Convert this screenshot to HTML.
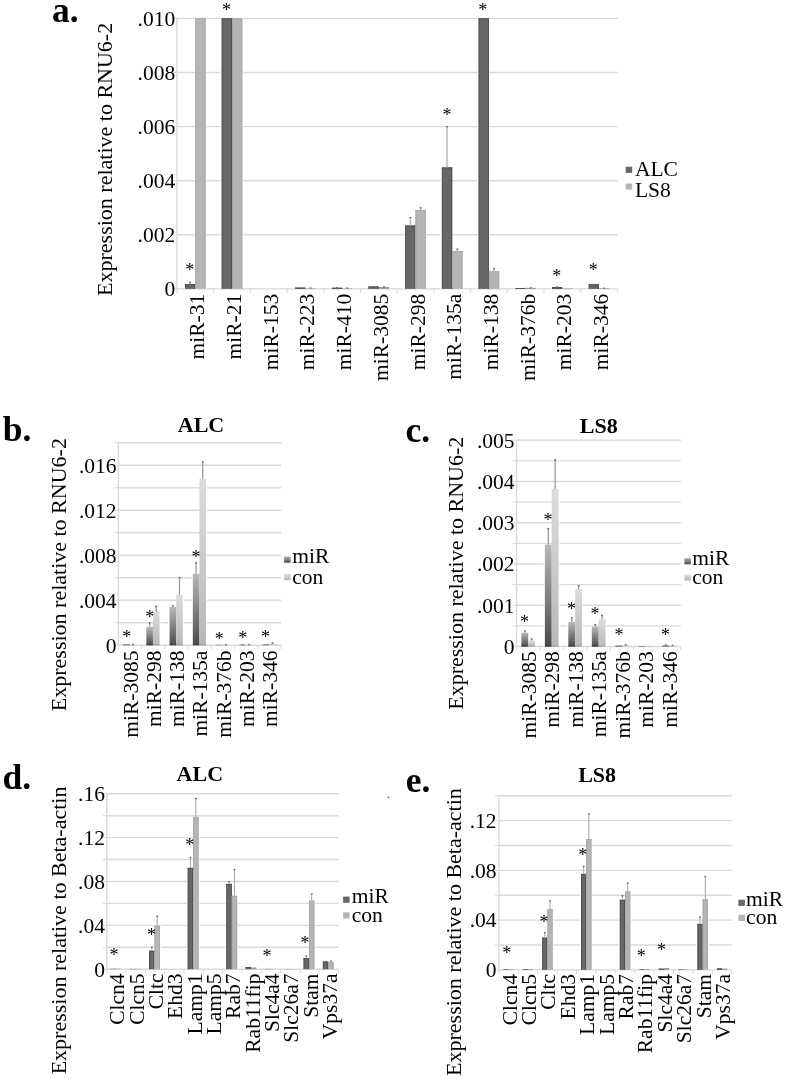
<!DOCTYPE html>
<html><head><meta charset="utf-8"><title>Figure</title>
<style>
html,body{margin:0;padding:0;background:#fff;}
svg{display:block;}
text{font-family:'Liberation Serif', 'Times New Roman', serif;fill:#000;}
</style></head>
<body>
<svg width="787" height="1079" viewBox="0 0 787 1079">
<defs>
<linearGradient id="gm" x1="0" y1="1" x2="0" y2="0"><stop offset="0" stop-color="#4a4a4a"/><stop offset="1" stop-color="#b8b8b8"/></linearGradient>
<linearGradient id="gc" x1="0" y1="1" x2="0" y2="0"><stop offset="0" stop-color="#b8b8b8"/><stop offset="1" stop-color="#dcdcdc"/></linearGradient>
</defs>
<rect width="787" height="1079" fill="#fff"/>
<line x1="177" y1="234.8" x2="617.4" y2="234.8" stroke="#d9d9d9" stroke-width="1.4"/>
<line x1="177" y1="180.7" x2="617.4" y2="180.7" stroke="#d9d9d9" stroke-width="1.4"/>
<line x1="177" y1="126.6" x2="617.4" y2="126.6" stroke="#d9d9d9" stroke-width="1.4"/>
<line x1="177" y1="72.5" x2="617.4" y2="72.5" stroke="#d9d9d9" stroke-width="1.4"/>
<line x1="177" y1="18.4" x2="617.4" y2="18.4" stroke="#d9d9d9" stroke-width="1.4"/>
<line x1="177" y1="18.4" x2="177" y2="288.9" stroke="#d9d9d9" stroke-width="1.4"/>
<line x1="173" y1="288.9" x2="177" y2="288.9" stroke="#d9d9d9" stroke-width="1"/>
<line x1="173" y1="234.8" x2="177" y2="234.8" stroke="#d9d9d9" stroke-width="1"/>
<line x1="173" y1="180.7" x2="177" y2="180.7" stroke="#d9d9d9" stroke-width="1"/>
<line x1="173" y1="126.6" x2="177" y2="126.6" stroke="#d9d9d9" stroke-width="1"/>
<line x1="173" y1="72.5" x2="177" y2="72.5" stroke="#d9d9d9" stroke-width="1"/>
<line x1="173" y1="18.4" x2="177" y2="18.4" stroke="#d9d9d9" stroke-width="1"/>
<line x1="177" y1="288.9" x2="617.4" y2="288.9" stroke="#d9d9d9" stroke-width="1.4"/>
<line x1="177" y1="288.9" x2="177" y2="292.9" stroke="#d9d9d9" stroke-width="1"/>
<line x1="213.7" y1="288.9" x2="213.7" y2="292.9" stroke="#d9d9d9" stroke-width="1"/>
<line x1="250.4" y1="288.9" x2="250.4" y2="292.9" stroke="#d9d9d9" stroke-width="1"/>
<line x1="287.1" y1="288.9" x2="287.1" y2="292.9" stroke="#d9d9d9" stroke-width="1"/>
<line x1="323.8" y1="288.9" x2="323.8" y2="292.9" stroke="#d9d9d9" stroke-width="1"/>
<line x1="360.5" y1="288.9" x2="360.5" y2="292.9" stroke="#d9d9d9" stroke-width="1"/>
<line x1="397.2" y1="288.9" x2="397.2" y2="292.9" stroke="#d9d9d9" stroke-width="1"/>
<line x1="433.9" y1="288.9" x2="433.9" y2="292.9" stroke="#d9d9d9" stroke-width="1"/>
<line x1="470.6" y1="288.9" x2="470.6" y2="292.9" stroke="#d9d9d9" stroke-width="1"/>
<line x1="507.3" y1="288.9" x2="507.3" y2="292.9" stroke="#d9d9d9" stroke-width="1"/>
<line x1="544" y1="288.9" x2="544" y2="292.9" stroke="#d9d9d9" stroke-width="1"/>
<line x1="580.7" y1="288.9" x2="580.7" y2="292.9" stroke="#d9d9d9" stroke-width="1"/>
<line x1="617.4" y1="288.9" x2="617.4" y2="292.9" stroke="#d9d9d9" stroke-width="1"/>
<rect x="183.8" y="283.2" width="1.2" height="5.2" fill="#fff"/>
<rect x="205.6" y="17.6" width="1" height="270.8" fill="#fff"/>
<rect x="220.5" y="17.6" width="1.2" height="270.8" fill="#fff"/>
<rect x="242.3" y="17.6" width="1" height="270.8" fill="#fff"/>
<rect x="367.3" y="285.7" width="1.2" height="2.7" fill="#fff"/>
<rect x="389.1" y="286.2" width="1" height="2.2" fill="#fff"/>
<rect x="404" y="224.7" width="1.2" height="63.7" fill="#fff"/>
<rect x="425.8" y="209.2" width="1" height="79.2" fill="#fff"/>
<rect x="440.7" y="166.6" width="1.2" height="121.8" fill="#fff"/>
<rect x="462.5" y="250.2" width="1" height="38.2" fill="#fff"/>
<rect x="477.4" y="17.6" width="1.2" height="270.8" fill="#fff"/>
<rect x="499.2" y="270.5" width="1" height="17.9" fill="#fff"/>
<rect x="550.8" y="286.2" width="1.2" height="2.2" fill="#fff"/>
<rect x="587.5" y="283.5" width="1.2" height="4.9" fill="#fff"/>
<rect x="185" y="284" width="10.3" height="4.9" fill="#676767"/>
<rect x="185" y="284" width="10.3" height="1" fill="#505050"/>
<rect x="185" y="284" width="0.9" height="4.9" fill="#505050"/>
<rect x="194.4" y="284" width="0.9" height="4.9" fill="#505050"/>
<rect x="195.3" y="18.4" width="10.3" height="270.5" fill="#b5b5b5"/>
<rect x="195.3" y="18.4" width="10.3" height="1" fill="#a8a8a8"/>
<rect x="195.3" y="18.4" width="0.9" height="270.5" fill="#a8a8a8"/>
<rect x="204.7" y="18.4" width="0.9" height="270.5" fill="#a8a8a8"/>
<line x1="190.15" y1="281.8" x2="190.15" y2="284" stroke="#bababa" stroke-width="1.5"/>
<line x1="189.25" y1="282.4" x2="191.05" y2="282.4" stroke="#6a6a6a" stroke-width="1.3"/>
<rect x="221.7" y="18.4" width="10.3" height="270.5" fill="#676767"/>
<rect x="221.7" y="18.4" width="10.3" height="1" fill="#505050"/>
<rect x="221.7" y="18.4" width="0.9" height="270.5" fill="#505050"/>
<rect x="231.1" y="18.4" width="0.9" height="270.5" fill="#505050"/>
<rect x="232" y="18.4" width="10.3" height="270.5" fill="#b5b5b5"/>
<rect x="232" y="18.4" width="10.3" height="1" fill="#a8a8a8"/>
<rect x="232" y="18.4" width="0.9" height="270.5" fill="#a8a8a8"/>
<rect x="241.4" y="18.4" width="0.9" height="270.5" fill="#a8a8a8"/>
<rect x="295.1" y="287.4" width="10.3" height="1.5" fill="#4a4a4a"/>
<rect x="305.4" y="288.4" width="10.3" height="0.5" fill="#9a9a9a"/>
<line x1="310.55" y1="287.5" x2="310.55" y2="288.4" stroke="#bababa" stroke-width="1.5"/>
<line x1="309.65" y1="288.1" x2="311.45" y2="288.1" stroke="#6a6a6a" stroke-width="1.3"/>
<rect x="331.8" y="287.6" width="10.3" height="1.3" fill="#4a4a4a"/>
<rect x="342.1" y="288.4" width="10.3" height="0.5" fill="#9a9a9a"/>
<line x1="336.95" y1="287" x2="336.95" y2="287.6" stroke="#bababa" stroke-width="1.5"/>
<line x1="336.05" y1="287.6" x2="337.85" y2="287.6" stroke="#6a6a6a" stroke-width="1.3"/>
<line x1="347.25" y1="287.6" x2="347.25" y2="288.4" stroke="#bababa" stroke-width="1.5"/>
<line x1="346.35" y1="288.2" x2="348.15" y2="288.2" stroke="#6a6a6a" stroke-width="1.3"/>
<rect x="368.5" y="286.5" width="10.3" height="2.4" fill="#676767"/>
<rect x="368.5" y="286.5" width="10.3" height="1" fill="#505050"/>
<rect x="368.5" y="286.5" width="0.9" height="2.4" fill="#505050"/>
<rect x="377.9" y="286.5" width="0.9" height="2.4" fill="#505050"/>
<rect x="378.8" y="287" width="10.3" height="1.9" fill="#9a9a9a"/>
<line x1="373.65" y1="286" x2="373.65" y2="286.5" stroke="#bababa" stroke-width="1.5"/>
<line x1="372.75" y1="286.6" x2="374.55" y2="286.6" stroke="#6a6a6a" stroke-width="1.3"/>
<line x1="383.95" y1="286.4" x2="383.95" y2="287" stroke="#bababa" stroke-width="1.5"/>
<line x1="383.05" y1="287" x2="384.85" y2="287" stroke="#6a6a6a" stroke-width="1.3"/>
<rect x="405.2" y="225.5" width="10.3" height="63.4" fill="#676767"/>
<rect x="405.2" y="225.5" width="10.3" height="1" fill="#505050"/>
<rect x="405.2" y="225.5" width="0.9" height="63.4" fill="#505050"/>
<rect x="414.6" y="225.5" width="0.9" height="63.4" fill="#505050"/>
<rect x="415.5" y="210" width="10.3" height="78.9" fill="#b5b5b5"/>
<rect x="415.5" y="210" width="10.3" height="1" fill="#a8a8a8"/>
<rect x="415.5" y="210" width="0.9" height="78.9" fill="#a8a8a8"/>
<rect x="424.9" y="210" width="0.9" height="78.9" fill="#a8a8a8"/>
<line x1="410.35" y1="217" x2="410.35" y2="225.5" stroke="#bababa" stroke-width="1.5"/>
<line x1="409.45" y1="217.6" x2="411.25" y2="217.6" stroke="#6a6a6a" stroke-width="1.3"/>
<line x1="420.65" y1="207.2" x2="420.65" y2="210" stroke="#bababa" stroke-width="1.5"/>
<line x1="419.75" y1="207.8" x2="421.55" y2="207.8" stroke="#6a6a6a" stroke-width="1.3"/>
<rect x="441.9" y="167.4" width="10.3" height="121.5" fill="#676767"/>
<rect x="441.9" y="167.4" width="10.3" height="1" fill="#505050"/>
<rect x="441.9" y="167.4" width="0.9" height="121.5" fill="#505050"/>
<rect x="451.3" y="167.4" width="0.9" height="121.5" fill="#505050"/>
<rect x="452.2" y="251" width="10.3" height="37.9" fill="#b5b5b5"/>
<rect x="452.2" y="251" width="10.3" height="1" fill="#a8a8a8"/>
<rect x="452.2" y="251" width="0.9" height="37.9" fill="#a8a8a8"/>
<rect x="461.6" y="251" width="0.9" height="37.9" fill="#a8a8a8"/>
<line x1="447.05" y1="126" x2="447.05" y2="167.4" stroke="#bababa" stroke-width="1.5"/>
<line x1="446.15" y1="126.6" x2="447.95" y2="126.6" stroke="#6a6a6a" stroke-width="1.3"/>
<line x1="457.35" y1="248.6" x2="457.35" y2="251" stroke="#bababa" stroke-width="1.5"/>
<line x1="456.45" y1="249.2" x2="458.25" y2="249.2" stroke="#6a6a6a" stroke-width="1.3"/>
<rect x="478.6" y="18.4" width="10.3" height="270.5" fill="#676767"/>
<rect x="478.6" y="18.4" width="10.3" height="1" fill="#505050"/>
<rect x="478.6" y="18.4" width="0.9" height="270.5" fill="#505050"/>
<rect x="488" y="18.4" width="0.9" height="270.5" fill="#505050"/>
<rect x="488.9" y="271.3" width="10.3" height="17.6" fill="#b5b5b5"/>
<rect x="488.9" y="271.3" width="10.3" height="1" fill="#a8a8a8"/>
<rect x="488.9" y="271.3" width="0.9" height="17.6" fill="#a8a8a8"/>
<rect x="498.3" y="271.3" width="0.9" height="17.6" fill="#a8a8a8"/>
<line x1="494.05" y1="268" x2="494.05" y2="271.3" stroke="#bababa" stroke-width="1.5"/>
<line x1="493.15" y1="268.6" x2="494.95" y2="268.6" stroke="#6a6a6a" stroke-width="1.3"/>
<rect x="515.3" y="288" width="10.3" height="0.9" fill="#4a4a4a"/>
<rect x="525.6" y="287.8" width="10.3" height="1.1" fill="#9a9a9a"/>
<line x1="530.75" y1="287.3" x2="530.75" y2="287.8" stroke="#bababa" stroke-width="1.5"/>
<line x1="529.85" y1="287.9" x2="531.65" y2="287.9" stroke="#6a6a6a" stroke-width="1.3"/>
<rect x="552" y="287" width="10.3" height="1.9" fill="#4a4a4a"/>
<rect x="562.3" y="288.4" width="10.3" height="0.5" fill="#9a9a9a"/>
<line x1="557.15" y1="286.5" x2="557.15" y2="287" stroke="#bababa" stroke-width="1.5"/>
<line x1="556.25" y1="287.1" x2="558.05" y2="287.1" stroke="#6a6a6a" stroke-width="1.3"/>
<rect x="588.7" y="284.3" width="10.3" height="4.6" fill="#676767"/>
<rect x="588.7" y="284.3" width="10.3" height="1" fill="#505050"/>
<rect x="588.7" y="284.3" width="0.9" height="4.6" fill="#505050"/>
<rect x="598.1" y="284.3" width="0.9" height="4.6" fill="#505050"/>
<rect x="599" y="288.3" width="10.3" height="0.6" fill="#9a9a9a"/>
<line x1="593.85" y1="283.8" x2="593.85" y2="284.3" stroke="#bababa" stroke-width="1.5"/>
<line x1="592.95" y1="284.4" x2="594.75" y2="284.4" stroke="#6a6a6a" stroke-width="1.3"/>
<line x1="604.15" y1="287.7" x2="604.15" y2="288.3" stroke="#bababa" stroke-width="1.5"/>
<line x1="603.25" y1="288.3" x2="605.05" y2="288.3" stroke="#6a6a6a" stroke-width="1.3"/>
<text x="189.8" y="276.2" text-anchor="middle" font-size="18">*</text>
<text x="226.4" y="15.8" text-anchor="middle" font-size="18">*</text>
<text x="447" y="121.4" text-anchor="middle" font-size="18">*</text>
<text x="482.7" y="16.2" text-anchor="middle" font-size="18">*</text>
<text x="556.7" y="282.35" text-anchor="middle" font-size="18">*</text>
<text x="593.3" y="276.1" text-anchor="middle" font-size="18">*</text>
<text x="175.2" y="296.2" text-anchor="end" font-size="21.5">0</text>
<text x="175.2" y="242.1" text-anchor="end" font-size="21.5">.002</text>
<text x="175.2" y="188" text-anchor="end" font-size="21.5">.004</text>
<text x="175.2" y="133.9" text-anchor="end" font-size="21.5">.006</text>
<text x="175.2" y="79.8" text-anchor="end" font-size="21.5">.008</text>
<text x="175.2" y="25.7" text-anchor="end" font-size="21.5">.010</text>
<text transform="translate(204.35,293.8) rotate(-90)" text-anchor="end" font-size="21.5">miR-31</text>
<text transform="translate(241.05,293.8) rotate(-90)" text-anchor="end" font-size="21.5">miR-21</text>
<text transform="translate(277.75,293.8) rotate(-90)" text-anchor="end" font-size="21.5">miR-153</text>
<text transform="translate(314.45,293.8) rotate(-90)" text-anchor="end" font-size="21.5">miR-223</text>
<text transform="translate(351.15,293.8) rotate(-90)" text-anchor="end" font-size="21.5">miR-410</text>
<text transform="translate(387.85,293.8) rotate(-90)" text-anchor="end" font-size="21.5">miR-3085</text>
<text transform="translate(424.55,293.8) rotate(-90)" text-anchor="end" font-size="21.5">miR-298</text>
<text transform="translate(461.25,293.8) rotate(-90)" text-anchor="end" font-size="21.5">miR-135a</text>
<text transform="translate(497.95,293.8) rotate(-90)" text-anchor="end" font-size="21.5">miR-138</text>
<text transform="translate(534.65,293.8) rotate(-90)" text-anchor="end" font-size="21.5">miR-376b</text>
<text transform="translate(571.35,293.8) rotate(-90)" text-anchor="end" font-size="21.5">miR-203</text>
<text transform="translate(608.05,293.8) rotate(-90)" text-anchor="end" font-size="21.5">miR-346</text>
<text transform="translate(112.3,22.8) rotate(-90)" text-anchor="end" font-size="22">Expression relative to RNU6-2</text>
<rect x="625.7" y="166.7" width="6.5" height="6.2" fill="#676767"/>
<rect x="625.7" y="183.5" width="6.5" height="6.2" fill="#b5b5b5"/>
<text x="634.9" y="175.8" text-anchor="start" font-size="21.5">ALC</text>
<text x="634.9" y="196.7" text-anchor="start" font-size="21.5">LS8</text>
<text x="52" y="21.8" text-anchor="start" font-size="35.5" font-weight="bold">a.</text>
<line x1="118.4" y1="622.71" x2="281.1" y2="622.71" stroke="#d9d9d9" stroke-width="1.4"/>
<line x1="118.4" y1="600.22" x2="281.1" y2="600.22" stroke="#d9d9d9" stroke-width="1.4"/>
<line x1="118.4" y1="577.73" x2="281.1" y2="577.73" stroke="#d9d9d9" stroke-width="1.4"/>
<line x1="118.4" y1="555.24" x2="281.1" y2="555.24" stroke="#d9d9d9" stroke-width="1.4"/>
<line x1="118.4" y1="532.75" x2="281.1" y2="532.75" stroke="#d9d9d9" stroke-width="1.4"/>
<line x1="118.4" y1="510.26" x2="281.1" y2="510.26" stroke="#d9d9d9" stroke-width="1.4"/>
<line x1="118.4" y1="487.77" x2="281.1" y2="487.77" stroke="#d9d9d9" stroke-width="1.4"/>
<line x1="118.4" y1="465.28" x2="281.1" y2="465.28" stroke="#d9d9d9" stroke-width="1.4"/>
<line x1="118.4" y1="442.79" x2="281.1" y2="442.79" stroke="#d9d9d9" stroke-width="1.4"/>
<line x1="118.4" y1="442.79" x2="118.4" y2="645.2" stroke="#d9d9d9" stroke-width="1.4"/>
<line x1="114.4" y1="645.2" x2="118.4" y2="645.2" stroke="#d9d9d9" stroke-width="1"/>
<line x1="114.4" y1="622.71" x2="118.4" y2="622.71" stroke="#d9d9d9" stroke-width="1"/>
<line x1="114.4" y1="600.22" x2="118.4" y2="600.22" stroke="#d9d9d9" stroke-width="1"/>
<line x1="114.4" y1="577.73" x2="118.4" y2="577.73" stroke="#d9d9d9" stroke-width="1"/>
<line x1="114.4" y1="555.24" x2="118.4" y2="555.24" stroke="#d9d9d9" stroke-width="1"/>
<line x1="114.4" y1="532.75" x2="118.4" y2="532.75" stroke="#d9d9d9" stroke-width="1"/>
<line x1="114.4" y1="510.26" x2="118.4" y2="510.26" stroke="#d9d9d9" stroke-width="1"/>
<line x1="114.4" y1="487.77" x2="118.4" y2="487.77" stroke="#d9d9d9" stroke-width="1"/>
<line x1="114.4" y1="465.28" x2="118.4" y2="465.28" stroke="#d9d9d9" stroke-width="1"/>
<line x1="114.4" y1="442.79" x2="118.4" y2="442.79" stroke="#d9d9d9" stroke-width="1"/>
<line x1="118.4" y1="645.2" x2="281.1" y2="645.2" stroke="#d9d9d9" stroke-width="1.4"/>
<line x1="118.4" y1="645.2" x2="118.4" y2="649.2" stroke="#d9d9d9" stroke-width="1"/>
<line x1="141.64" y1="645.2" x2="141.64" y2="649.2" stroke="#d9d9d9" stroke-width="1"/>
<line x1="164.89" y1="645.2" x2="164.89" y2="649.2" stroke="#d9d9d9" stroke-width="1"/>
<line x1="188.13" y1="645.2" x2="188.13" y2="649.2" stroke="#d9d9d9" stroke-width="1"/>
<line x1="211.37" y1="645.2" x2="211.37" y2="649.2" stroke="#d9d9d9" stroke-width="1"/>
<line x1="234.61" y1="645.2" x2="234.61" y2="649.2" stroke="#d9d9d9" stroke-width="1"/>
<line x1="257.86" y1="645.2" x2="257.86" y2="649.2" stroke="#d9d9d9" stroke-width="1"/>
<line x1="281.1" y1="645.2" x2="281.1" y2="649.2" stroke="#d9d9d9" stroke-width="1"/>
<rect x="145.14" y="626.2" width="1.2" height="18.5" fill="#fff"/>
<rect x="159.54" y="611.1" width="1" height="33.6" fill="#fff"/>
<rect x="168.39" y="606.2" width="1.2" height="38.5" fill="#fff"/>
<rect x="182.79" y="594.1" width="1" height="50.6" fill="#fff"/>
<rect x="191.63" y="573" width="1.2" height="71.7" fill="#fff"/>
<rect x="206.03" y="478" width="1" height="166.7" fill="#fff"/>
<rect x="123.1" y="644" width="6.6" height="1.2" fill="url(#gm)"/>
<rect x="129.7" y="644.8" width="6.6" height="0.4" fill="url(#gc)"/>
<line x1="133" y1="643.9" x2="133" y2="644.8" stroke="#9a9a9a" stroke-width="1.3"/>
<line x1="132.1" y1="644.5" x2="133.9" y2="644.5" stroke="#6a6a6a" stroke-width="1.3"/>
<rect x="146.34" y="627" width="6.6" height="18.2" fill="url(#gm)"/>
<line x1="146.34" y1="644.7" x2="152.94" y2="644.7" stroke="#3a3a3a" stroke-width="1"/>
<rect x="152.94" y="611.9" width="6.6" height="33.3" fill="url(#gc)"/>
<line x1="152.94" y1="644.7" x2="159.54" y2="644.7" stroke="#9a9a9a" stroke-width="1"/>
<line x1="149.64" y1="622.4" x2="149.64" y2="627" stroke="#9a9a9a" stroke-width="1.3"/>
<line x1="148.74" y1="623" x2="150.54" y2="623" stroke="#6a6a6a" stroke-width="1.3"/>
<line x1="156.24" y1="605.8" x2="156.24" y2="611.9" stroke="#9a9a9a" stroke-width="1.3"/>
<line x1="155.34" y1="606.4" x2="157.14" y2="606.4" stroke="#6a6a6a" stroke-width="1.3"/>
<rect x="169.59" y="607" width="6.6" height="38.2" fill="url(#gm)"/>
<line x1="169.59" y1="644.7" x2="176.19" y2="644.7" stroke="#3a3a3a" stroke-width="1"/>
<rect x="176.19" y="594.9" width="6.6" height="50.3" fill="url(#gc)"/>
<line x1="176.19" y1="644.7" x2="182.79" y2="644.7" stroke="#9a9a9a" stroke-width="1"/>
<line x1="172.89" y1="605.2" x2="172.89" y2="607" stroke="#9a9a9a" stroke-width="1.3"/>
<line x1="171.99" y1="605.8" x2="173.79" y2="605.8" stroke="#6a6a6a" stroke-width="1.3"/>
<line x1="179.49" y1="577" x2="179.49" y2="594.9" stroke="#9a9a9a" stroke-width="1.3"/>
<line x1="178.59" y1="577.6" x2="180.39" y2="577.6" stroke="#6a6a6a" stroke-width="1.3"/>
<rect x="192.83" y="573.8" width="6.6" height="71.4" fill="url(#gm)"/>
<line x1="192.83" y1="644.7" x2="199.43" y2="644.7" stroke="#3a3a3a" stroke-width="1"/>
<rect x="199.43" y="478.8" width="6.6" height="166.4" fill="url(#gc)"/>
<line x1="199.43" y1="644.7" x2="206.03" y2="644.7" stroke="#9a9a9a" stroke-width="1"/>
<line x1="196.13" y1="562.3" x2="196.13" y2="573.8" stroke="#9a9a9a" stroke-width="1.3"/>
<line x1="195.23" y1="562.9" x2="197.03" y2="562.9" stroke="#6a6a6a" stroke-width="1.3"/>
<line x1="202.73" y1="461.3" x2="202.73" y2="478.8" stroke="#9a9a9a" stroke-width="1.3"/>
<line x1="201.83" y1="461.9" x2="203.63" y2="461.9" stroke="#6a6a6a" stroke-width="1.3"/>
<rect x="216.07" y="644.6" width="6.6" height="0.6" fill="url(#gm)"/>
<rect x="222.67" y="644.7" width="6.6" height="0.5" fill="url(#gc)"/>
<line x1="225.97" y1="644" x2="225.97" y2="644.7" stroke="#9a9a9a" stroke-width="1.3"/>
<line x1="225.07" y1="644.6" x2="226.87" y2="644.6" stroke="#6a6a6a" stroke-width="1.3"/>
<rect x="239.31" y="644.5" width="6.6" height="0.7" fill="url(#gm)"/>
<rect x="245.91" y="644.6" width="6.6" height="0.6" fill="url(#gc)"/>
<line x1="242.61" y1="644" x2="242.61" y2="644.5" stroke="#9a9a9a" stroke-width="1.3"/>
<line x1="241.71" y1="644.6" x2="243.51" y2="644.6" stroke="#6a6a6a" stroke-width="1.3"/>
<line x1="249.21" y1="644" x2="249.21" y2="644.6" stroke="#9a9a9a" stroke-width="1.3"/>
<line x1="248.31" y1="644.6" x2="250.11" y2="644.6" stroke="#6a6a6a" stroke-width="1.3"/>
<rect x="262.56" y="644.1" width="6.6" height="1.1" fill="url(#gm)"/>
<rect x="269.16" y="643.9" width="6.6" height="1.3" fill="url(#gc)"/>
<line x1="272.46" y1="642.5" x2="272.46" y2="643.9" stroke="#9a9a9a" stroke-width="1.3"/>
<line x1="271.56" y1="643.1" x2="273.36" y2="643.1" stroke="#6a6a6a" stroke-width="1.3"/>
<text x="126.8" y="642.7" text-anchor="middle" font-size="18">*</text>
<text x="149.7" y="622.55" text-anchor="middle" font-size="18">*</text>
<text x="196" y="562.6" text-anchor="middle" font-size="18">*</text>
<text x="219.2" y="644.8" text-anchor="middle" font-size="18">*</text>
<text x="242.7" y="644.4" text-anchor="middle" font-size="18">*</text>
<text x="265.4" y="643" text-anchor="middle" font-size="18">*</text>
<text x="116.5" y="652.5" text-anchor="end" font-size="21.5">0</text>
<text x="116.5" y="607.5" text-anchor="end" font-size="21.5">.004</text>
<text x="116.5" y="562.6" text-anchor="end" font-size="21.5">.008</text>
<text x="116.5" y="517.6" text-anchor="end" font-size="21.5">.012</text>
<text x="116.5" y="472.6" text-anchor="end" font-size="21.5">.016</text>
<text transform="translate(137.72,650.6) rotate(-90)" text-anchor="end" font-size="21.5">miR-3085</text>
<text transform="translate(160.96,650.6) rotate(-90)" text-anchor="end" font-size="21.5">miR-298</text>
<text transform="translate(184.21,650.6) rotate(-90)" text-anchor="end" font-size="21.5">miR-138</text>
<text transform="translate(207.45,650.6) rotate(-90)" text-anchor="end" font-size="21.5">miR-135a</text>
<text transform="translate(230.69,650.6) rotate(-90)" text-anchor="end" font-size="21.5">miR-376b</text>
<text transform="translate(253.94,650.6) rotate(-90)" text-anchor="end" font-size="21.5">miR-203</text>
<text transform="translate(277.18,650.6) rotate(-90)" text-anchor="end" font-size="21.5">miR-346</text>
<text transform="translate(66.1,438.1) rotate(-90)" text-anchor="end" font-size="22">Expression relative to RNU6-2</text>
<rect x="284.1" y="556.5" width="6.5" height="6.2" fill="url(#gm)"/>
<rect x="284.1" y="574" width="6.5" height="6.2" fill="url(#gc)"/>
<text x="292.3" y="563" text-anchor="start" font-size="21.5">miR</text>
<text x="292.3" y="583.5" text-anchor="start" font-size="21.5">con</text>
<text x="177.8" y="432.3" text-anchor="start" font-size="22" font-weight="bold">ALC</text>
<text x="2.7" y="440.6" text-anchor="start" font-size="35.5" font-weight="bold">b.</text>
<line x1="516.5" y1="625.87" x2="680.8" y2="625.87" stroke="#d9d9d9" stroke-width="1.4"/>
<line x1="516.5" y1="605.24" x2="680.8" y2="605.24" stroke="#d9d9d9" stroke-width="1.4"/>
<line x1="516.5" y1="584.61" x2="680.8" y2="584.61" stroke="#d9d9d9" stroke-width="1.4"/>
<line x1="516.5" y1="563.98" x2="680.8" y2="563.98" stroke="#d9d9d9" stroke-width="1.4"/>
<line x1="516.5" y1="543.35" x2="680.8" y2="543.35" stroke="#d9d9d9" stroke-width="1.4"/>
<line x1="516.5" y1="522.72" x2="680.8" y2="522.72" stroke="#d9d9d9" stroke-width="1.4"/>
<line x1="516.5" y1="502.09" x2="680.8" y2="502.09" stroke="#d9d9d9" stroke-width="1.4"/>
<line x1="516.5" y1="481.46" x2="680.8" y2="481.46" stroke="#d9d9d9" stroke-width="1.4"/>
<line x1="516.5" y1="460.83" x2="680.8" y2="460.83" stroke="#d9d9d9" stroke-width="1.4"/>
<line x1="516.5" y1="440.2" x2="680.8" y2="440.2" stroke="#d9d9d9" stroke-width="1.4"/>
<line x1="516.5" y1="440.2" x2="516.5" y2="646.5" stroke="#d9d9d9" stroke-width="1.4"/>
<line x1="512.5" y1="646.5" x2="516.5" y2="646.5" stroke="#d9d9d9" stroke-width="1"/>
<line x1="512.5" y1="625.87" x2="516.5" y2="625.87" stroke="#d9d9d9" stroke-width="1"/>
<line x1="512.5" y1="605.24" x2="516.5" y2="605.24" stroke="#d9d9d9" stroke-width="1"/>
<line x1="512.5" y1="584.61" x2="516.5" y2="584.61" stroke="#d9d9d9" stroke-width="1"/>
<line x1="512.5" y1="563.98" x2="516.5" y2="563.98" stroke="#d9d9d9" stroke-width="1"/>
<line x1="512.5" y1="543.35" x2="516.5" y2="543.35" stroke="#d9d9d9" stroke-width="1"/>
<line x1="512.5" y1="522.72" x2="516.5" y2="522.72" stroke="#d9d9d9" stroke-width="1"/>
<line x1="512.5" y1="502.09" x2="516.5" y2="502.09" stroke="#d9d9d9" stroke-width="1"/>
<line x1="512.5" y1="481.46" x2="516.5" y2="481.46" stroke="#d9d9d9" stroke-width="1"/>
<line x1="512.5" y1="460.83" x2="516.5" y2="460.83" stroke="#d9d9d9" stroke-width="1"/>
<line x1="512.5" y1="440.2" x2="516.5" y2="440.2" stroke="#d9d9d9" stroke-width="1"/>
<line x1="516.5" y1="646.5" x2="680.8" y2="646.5" stroke="#d9d9d9" stroke-width="1.4"/>
<line x1="516.5" y1="646.5" x2="516.5" y2="650.5" stroke="#d9d9d9" stroke-width="1"/>
<line x1="539.97" y1="646.5" x2="539.97" y2="650.5" stroke="#d9d9d9" stroke-width="1"/>
<line x1="563.44" y1="646.5" x2="563.44" y2="650.5" stroke="#d9d9d9" stroke-width="1"/>
<line x1="586.91" y1="646.5" x2="586.91" y2="650.5" stroke="#d9d9d9" stroke-width="1"/>
<line x1="610.39" y1="646.5" x2="610.39" y2="650.5" stroke="#d9d9d9" stroke-width="1"/>
<line x1="633.86" y1="646.5" x2="633.86" y2="650.5" stroke="#d9d9d9" stroke-width="1"/>
<line x1="657.33" y1="646.5" x2="657.33" y2="650.5" stroke="#d9d9d9" stroke-width="1"/>
<line x1="680.8" y1="646.5" x2="680.8" y2="650.5" stroke="#d9d9d9" stroke-width="1"/>
<rect x="520.2" y="632" width="1.2" height="14" fill="#fff"/>
<rect x="535.1" y="639.7" width="1" height="6.3" fill="#fff"/>
<rect x="543.67" y="543.9" width="1.2" height="102.1" fill="#fff"/>
<rect x="558.57" y="488.1" width="1" height="157.9" fill="#fff"/>
<rect x="567.14" y="621" width="1.2" height="25" fill="#fff"/>
<rect x="582.04" y="588.3" width="1" height="57.7" fill="#fff"/>
<rect x="590.61" y="626" width="1.2" height="20" fill="#fff"/>
<rect x="605.51" y="618.7" width="1" height="27.3" fill="#fff"/>
<rect x="521.4" y="632.8" width="6.85" height="13.7" fill="url(#gm)"/>
<line x1="521.4" y1="646" x2="528.25" y2="646" stroke="#3a3a3a" stroke-width="1"/>
<rect x="528.25" y="640.5" width="6.85" height="6" fill="url(#gc)"/>
<line x1="528.25" y1="646" x2="535.1" y2="646" stroke="#9a9a9a" stroke-width="1"/>
<line x1="524.82" y1="630.5" x2="524.82" y2="632.8" stroke="#9a9a9a" stroke-width="1.3"/>
<line x1="523.92" y1="631.1" x2="525.72" y2="631.1" stroke="#6a6a6a" stroke-width="1.3"/>
<line x1="531.67" y1="638.5" x2="531.67" y2="640.5" stroke="#9a9a9a" stroke-width="1.3"/>
<line x1="530.77" y1="639.1" x2="532.57" y2="639.1" stroke="#6a6a6a" stroke-width="1.3"/>
<rect x="544.87" y="544.7" width="6.85" height="101.8" fill="url(#gm)"/>
<line x1="544.87" y1="646" x2="551.72" y2="646" stroke="#3a3a3a" stroke-width="1"/>
<rect x="551.72" y="488.9" width="6.85" height="157.6" fill="url(#gc)"/>
<line x1="551.72" y1="646" x2="558.57" y2="646" stroke="#9a9a9a" stroke-width="1"/>
<line x1="548.3" y1="528" x2="548.3" y2="544.7" stroke="#9a9a9a" stroke-width="1.3"/>
<line x1="547.4" y1="528.6" x2="549.2" y2="528.6" stroke="#6a6a6a" stroke-width="1.3"/>
<line x1="555.15" y1="459.3" x2="555.15" y2="488.9" stroke="#9a9a9a" stroke-width="1.3"/>
<line x1="554.25" y1="459.9" x2="556.05" y2="459.9" stroke="#6a6a6a" stroke-width="1.3"/>
<rect x="568.34" y="621.8" width="6.85" height="24.7" fill="url(#gm)"/>
<line x1="568.34" y1="646" x2="575.19" y2="646" stroke="#3a3a3a" stroke-width="1"/>
<rect x="575.19" y="589.1" width="6.85" height="57.4" fill="url(#gc)"/>
<line x1="575.19" y1="646" x2="582.04" y2="646" stroke="#9a9a9a" stroke-width="1"/>
<line x1="571.77" y1="617.2" x2="571.77" y2="621.8" stroke="#9a9a9a" stroke-width="1.3"/>
<line x1="570.87" y1="617.8" x2="572.67" y2="617.8" stroke="#6a6a6a" stroke-width="1.3"/>
<line x1="578.62" y1="585.2" x2="578.62" y2="589.1" stroke="#9a9a9a" stroke-width="1.3"/>
<line x1="577.72" y1="585.8" x2="579.52" y2="585.8" stroke="#6a6a6a" stroke-width="1.3"/>
<rect x="591.81" y="626.8" width="6.85" height="19.7" fill="url(#gm)"/>
<line x1="591.81" y1="646" x2="598.66" y2="646" stroke="#3a3a3a" stroke-width="1"/>
<rect x="598.66" y="619.5" width="6.85" height="27" fill="url(#gc)"/>
<line x1="598.66" y1="646" x2="605.51" y2="646" stroke="#9a9a9a" stroke-width="1"/>
<line x1="595.24" y1="624" x2="595.24" y2="626.8" stroke="#9a9a9a" stroke-width="1.3"/>
<line x1="594.34" y1="624.6" x2="596.14" y2="624.6" stroke="#6a6a6a" stroke-width="1.3"/>
<line x1="602.09" y1="614.9" x2="602.09" y2="619.5" stroke="#9a9a9a" stroke-width="1.3"/>
<line x1="601.19" y1="615.5" x2="602.99" y2="615.5" stroke="#6a6a6a" stroke-width="1.3"/>
<rect x="615.29" y="645.2" width="6.85" height="1.3" fill="url(#gm)"/>
<rect x="622.14" y="645" width="6.85" height="1.5" fill="url(#gc)"/>
<line x1="625.56" y1="644.2" x2="625.56" y2="645" stroke="#9a9a9a" stroke-width="1.3"/>
<line x1="624.66" y1="644.8" x2="626.46" y2="644.8" stroke="#6a6a6a" stroke-width="1.3"/>
<rect x="638.76" y="646" width="6.85" height="0.5" fill="url(#gm)"/>
<rect x="645.61" y="646" width="6.85" height="0.5" fill="url(#gc)"/>
<rect x="662.23" y="645.2" width="6.85" height="1.3" fill="url(#gm)"/>
<rect x="669.08" y="645.5" width="6.85" height="1" fill="url(#gc)"/>
<line x1="665.65" y1="644.5" x2="665.65" y2="645.2" stroke="#9a9a9a" stroke-width="1.3"/>
<line x1="664.75" y1="645.1" x2="666.55" y2="645.1" stroke="#6a6a6a" stroke-width="1.3"/>
<line x1="672.5" y1="644.8" x2="672.5" y2="645.5" stroke="#9a9a9a" stroke-width="1.3"/>
<line x1="671.6" y1="645.4" x2="673.4" y2="645.4" stroke="#6a6a6a" stroke-width="1.3"/>
<text x="524.6" y="627.7" text-anchor="middle" font-size="18">*</text>
<text x="547.9" y="525.7" text-anchor="middle" font-size="18">*</text>
<text x="571.4" y="615.2" text-anchor="middle" font-size="18">*</text>
<text x="595.1" y="619.6" text-anchor="middle" font-size="18">*</text>
<text x="619.1" y="640.6" text-anchor="middle" font-size="18">*</text>
<text x="665.4" y="640.6" text-anchor="middle" font-size="18">*</text>
<text x="514.6" y="653.8" text-anchor="end" font-size="21.5">0</text>
<text x="514.6" y="612.6" text-anchor="end" font-size="21.5">.001</text>
<text x="514.6" y="571.3" text-anchor="end" font-size="21.5">.002</text>
<text x="514.6" y="530" text-anchor="end" font-size="21.5">.003</text>
<text x="514.6" y="488.7" text-anchor="end" font-size="21.5">.004</text>
<text x="514.6" y="447.5" text-anchor="end" font-size="21.5">.005</text>
<text transform="translate(535.94,651.2) rotate(-90)" text-anchor="end" font-size="21.5">miR-3085</text>
<text transform="translate(559.41,651.2) rotate(-90)" text-anchor="end" font-size="21.5">miR-298</text>
<text transform="translate(582.88,651.2) rotate(-90)" text-anchor="end" font-size="21.5">miR-138</text>
<text transform="translate(606.35,651.2) rotate(-90)" text-anchor="end" font-size="21.5">miR-135a</text>
<text transform="translate(629.82,651.2) rotate(-90)" text-anchor="end" font-size="21.5">miR-376b</text>
<text transform="translate(653.29,651.2) rotate(-90)" text-anchor="end" font-size="21.5">miR-203</text>
<text transform="translate(676.76,651.2) rotate(-90)" text-anchor="end" font-size="21.5">miR-346</text>
<text transform="translate(462.9,436.7) rotate(-90)" text-anchor="end" font-size="22">Expression relative to RNU6-2</text>
<rect x="684.4" y="558.1" width="6.5" height="6.2" fill="url(#gm)"/>
<rect x="684.4" y="574.5" width="6.5" height="6.2" fill="url(#gc)"/>
<text x="692.3" y="565" text-anchor="start" font-size="21.5">miR</text>
<text x="692.3" y="584.3" text-anchor="start" font-size="21.5">con</text>
<text x="579.8" y="432.5" text-anchor="start" font-size="22" font-weight="bold">LS8</text>
<text x="405.5" y="441.8" text-anchor="start" font-size="35.5" font-weight="bold">c.</text>
<line x1="106.8" y1="947.27" x2="338.5" y2="947.27" stroke="#d9d9d9" stroke-width="1.4"/>
<line x1="106.8" y1="925.34" x2="338.5" y2="925.34" stroke="#d9d9d9" stroke-width="1.4"/>
<line x1="106.8" y1="903.41" x2="338.5" y2="903.41" stroke="#d9d9d9" stroke-width="1.4"/>
<line x1="106.8" y1="881.48" x2="338.5" y2="881.48" stroke="#d9d9d9" stroke-width="1.4"/>
<line x1="106.8" y1="859.55" x2="338.5" y2="859.55" stroke="#d9d9d9" stroke-width="1.4"/>
<line x1="106.8" y1="837.62" x2="338.5" y2="837.62" stroke="#d9d9d9" stroke-width="1.4"/>
<line x1="106.8" y1="815.69" x2="338.5" y2="815.69" stroke="#d9d9d9" stroke-width="1.4"/>
<line x1="106.8" y1="793.76" x2="338.5" y2="793.76" stroke="#d9d9d9" stroke-width="1.4"/>
<line x1="106.8" y1="793.76" x2="106.8" y2="969.2" stroke="#d9d9d9" stroke-width="1.4"/>
<line x1="102.8" y1="969.2" x2="106.8" y2="969.2" stroke="#d9d9d9" stroke-width="1"/>
<line x1="102.8" y1="947.27" x2="106.8" y2="947.27" stroke="#d9d9d9" stroke-width="1"/>
<line x1="102.8" y1="925.34" x2="106.8" y2="925.34" stroke="#d9d9d9" stroke-width="1"/>
<line x1="102.8" y1="903.41" x2="106.8" y2="903.41" stroke="#d9d9d9" stroke-width="1"/>
<line x1="102.8" y1="881.48" x2="106.8" y2="881.48" stroke="#d9d9d9" stroke-width="1"/>
<line x1="102.8" y1="859.55" x2="106.8" y2="859.55" stroke="#d9d9d9" stroke-width="1"/>
<line x1="102.8" y1="837.62" x2="106.8" y2="837.62" stroke="#d9d9d9" stroke-width="1"/>
<line x1="102.8" y1="815.69" x2="106.8" y2="815.69" stroke="#d9d9d9" stroke-width="1"/>
<line x1="102.8" y1="793.76" x2="106.8" y2="793.76" stroke="#d9d9d9" stroke-width="1"/>
<line x1="106.8" y1="969.2" x2="338.5" y2="969.2" stroke="#d9d9d9" stroke-width="1.4"/>
<line x1="106.8" y1="969.2" x2="106.8" y2="973.2" stroke="#d9d9d9" stroke-width="1"/>
<line x1="126.11" y1="969.2" x2="126.11" y2="973.2" stroke="#d9d9d9" stroke-width="1"/>
<line x1="145.42" y1="969.2" x2="145.42" y2="973.2" stroke="#d9d9d9" stroke-width="1"/>
<line x1="164.72" y1="969.2" x2="164.72" y2="973.2" stroke="#d9d9d9" stroke-width="1"/>
<line x1="184.03" y1="969.2" x2="184.03" y2="973.2" stroke="#d9d9d9" stroke-width="1"/>
<line x1="203.34" y1="969.2" x2="203.34" y2="973.2" stroke="#d9d9d9" stroke-width="1"/>
<line x1="222.65" y1="969.2" x2="222.65" y2="973.2" stroke="#d9d9d9" stroke-width="1"/>
<line x1="241.96" y1="969.2" x2="241.96" y2="973.2" stroke="#d9d9d9" stroke-width="1"/>
<line x1="261.27" y1="969.2" x2="261.27" y2="973.2" stroke="#d9d9d9" stroke-width="1"/>
<line x1="280.57" y1="969.2" x2="280.57" y2="973.2" stroke="#d9d9d9" stroke-width="1"/>
<line x1="299.88" y1="969.2" x2="299.88" y2="973.2" stroke="#d9d9d9" stroke-width="1"/>
<line x1="319.19" y1="969.2" x2="319.19" y2="973.2" stroke="#d9d9d9" stroke-width="1"/>
<line x1="338.5" y1="969.2" x2="338.5" y2="973.2" stroke="#d9d9d9" stroke-width="1"/>
<rect x="147.92" y="950" width="1.2" height="18.7" fill="#fff"/>
<rect x="159.92" y="925.1" width="1" height="43.6" fill="#fff"/>
<rect x="186.53" y="867.1" width="1.2" height="101.6" fill="#fff"/>
<rect x="198.53" y="816.1" width="1" height="152.6" fill="#fff"/>
<rect x="225.15" y="883.1" width="1.2" height="85.6" fill="#fff"/>
<rect x="237.15" y="895" width="1" height="73.7" fill="#fff"/>
<rect x="244.46" y="966.2" width="1.2" height="2.5" fill="#fff"/>
<rect x="256.46" y="966.7" width="1" height="2" fill="#fff"/>
<rect x="302.38" y="957.2" width="1.2" height="11.5" fill="#fff"/>
<rect x="314.38" y="899.9" width="1" height="68.8" fill="#fff"/>
<rect x="321.69" y="960.8" width="1.2" height="7.9" fill="#fff"/>
<rect x="333.69" y="961.5" width="1" height="7.2" fill="#fff"/>
<rect x="110.5" y="968.8" width="5.4" height="0.4" fill="#4a4a4a"/>
<rect x="115.9" y="968.8" width="5.4" height="0.4" fill="#9a9a9a"/>
<rect x="129.81" y="968.9" width="5.4" height="0.3" fill="#4a4a4a"/>
<rect x="135.21" y="968.8" width="5.4" height="0.4" fill="#9a9a9a"/>
<rect x="149.12" y="950.8" width="5.4" height="18.4" fill="#676767"/>
<rect x="149.12" y="950.8" width="5.4" height="1" fill="#505050"/>
<rect x="149.12" y="950.8" width="0.9" height="18.4" fill="#505050"/>
<rect x="153.62" y="950.8" width="0.9" height="18.4" fill="#505050"/>
<rect x="154.52" y="925.9" width="5.4" height="43.3" fill="#b5b5b5"/>
<rect x="154.52" y="925.9" width="5.4" height="1" fill="#a8a8a8"/>
<rect x="154.52" y="925.9" width="0.9" height="43.3" fill="#a8a8a8"/>
<rect x="159.02" y="925.9" width="0.9" height="43.3" fill="#a8a8a8"/>
<line x1="151.82" y1="946.5" x2="151.82" y2="950.8" stroke="#ababab" stroke-width="1.1"/>
<line x1="150.92" y1="947.1" x2="152.72" y2="947.1" stroke="#6a6a6a" stroke-width="1.3"/>
<line x1="157.22" y1="915.6" x2="157.22" y2="925.9" stroke="#ababab" stroke-width="1.1"/>
<line x1="156.32" y1="916.2" x2="158.12" y2="916.2" stroke="#6a6a6a" stroke-width="1.3"/>
<rect x="187.73" y="867.9" width="5.4" height="101.3" fill="#676767"/>
<rect x="187.73" y="867.9" width="5.4" height="1" fill="#505050"/>
<rect x="187.73" y="867.9" width="0.9" height="101.3" fill="#505050"/>
<rect x="192.23" y="867.9" width="0.9" height="101.3" fill="#505050"/>
<rect x="193.13" y="816.9" width="5.4" height="152.3" fill="#b5b5b5"/>
<rect x="193.13" y="816.9" width="5.4" height="1" fill="#a8a8a8"/>
<rect x="193.13" y="816.9" width="0.9" height="152.3" fill="#a8a8a8"/>
<rect x="197.63" y="816.9" width="0.9" height="152.3" fill="#a8a8a8"/>
<line x1="190.43" y1="856.9" x2="190.43" y2="867.9" stroke="#ababab" stroke-width="1.1"/>
<line x1="189.53" y1="857.5" x2="191.33" y2="857.5" stroke="#6a6a6a" stroke-width="1.3"/>
<line x1="195.83" y1="797.9" x2="195.83" y2="816.9" stroke="#ababab" stroke-width="1.1"/>
<line x1="194.93" y1="798.5" x2="196.73" y2="798.5" stroke="#6a6a6a" stroke-width="1.3"/>
<rect x="226.35" y="883.9" width="5.4" height="85.3" fill="#676767"/>
<rect x="226.35" y="883.9" width="5.4" height="1" fill="#505050"/>
<rect x="226.35" y="883.9" width="0.9" height="85.3" fill="#505050"/>
<rect x="230.85" y="883.9" width="0.9" height="85.3" fill="#505050"/>
<rect x="231.75" y="895.8" width="5.4" height="73.4" fill="#b5b5b5"/>
<rect x="231.75" y="895.8" width="5.4" height="1" fill="#a8a8a8"/>
<rect x="231.75" y="895.8" width="0.9" height="73.4" fill="#a8a8a8"/>
<rect x="236.25" y="895.8" width="0.9" height="73.4" fill="#a8a8a8"/>
<line x1="229.05" y1="881" x2="229.05" y2="883.9" stroke="#ababab" stroke-width="1.1"/>
<line x1="228.15" y1="881.6" x2="229.95" y2="881.6" stroke="#6a6a6a" stroke-width="1.3"/>
<line x1="234.45" y1="869" x2="234.45" y2="895.8" stroke="#ababab" stroke-width="1.1"/>
<line x1="233.55" y1="869.6" x2="235.35" y2="869.6" stroke="#6a6a6a" stroke-width="1.3"/>
<rect x="245.66" y="967" width="5.4" height="2.2" fill="#676767"/>
<rect x="245.66" y="967" width="5.4" height="1" fill="#505050"/>
<rect x="245.66" y="967" width="0.9" height="2.2" fill="#505050"/>
<rect x="250.16" y="967" width="0.9" height="2.2" fill="#505050"/>
<rect x="251.06" y="967.5" width="5.4" height="1.7" fill="#9a9a9a"/>
<rect x="264.97" y="968.9" width="5.4" height="0.3" fill="#4a4a4a"/>
<rect x="270.37" y="968.9" width="5.4" height="0.3" fill="#9a9a9a"/>
<rect x="284.27" y="969" width="5.4" height="0.2" fill="#4a4a4a"/>
<rect x="289.67" y="969" width="5.4" height="0.2" fill="#9a9a9a"/>
<rect x="303.58" y="958" width="5.4" height="11.2" fill="#676767"/>
<rect x="303.58" y="958" width="5.4" height="1" fill="#505050"/>
<rect x="303.58" y="958" width="0.9" height="11.2" fill="#505050"/>
<rect x="308.08" y="958" width="0.9" height="11.2" fill="#505050"/>
<rect x="308.98" y="900.7" width="5.4" height="68.5" fill="#b5b5b5"/>
<rect x="308.98" y="900.7" width="5.4" height="1" fill="#a8a8a8"/>
<rect x="308.98" y="900.7" width="0.9" height="68.5" fill="#a8a8a8"/>
<rect x="313.48" y="900.7" width="0.9" height="68.5" fill="#a8a8a8"/>
<line x1="306.28" y1="955.5" x2="306.28" y2="958" stroke="#ababab" stroke-width="1.1"/>
<line x1="305.38" y1="956.1" x2="307.18" y2="956.1" stroke="#6a6a6a" stroke-width="1.3"/>
<line x1="311.68" y1="893.5" x2="311.68" y2="900.7" stroke="#ababab" stroke-width="1.1"/>
<line x1="310.78" y1="894.1" x2="312.58" y2="894.1" stroke="#6a6a6a" stroke-width="1.3"/>
<rect x="322.89" y="961.6" width="5.4" height="7.6" fill="#676767"/>
<rect x="322.89" y="961.6" width="5.4" height="1" fill="#505050"/>
<rect x="322.89" y="961.6" width="0.9" height="7.6" fill="#505050"/>
<rect x="327.39" y="961.6" width="0.9" height="7.6" fill="#505050"/>
<rect x="328.29" y="962.3" width="5.4" height="6.9" fill="#b5b5b5"/>
<rect x="328.29" y="962.3" width="5.4" height="1" fill="#a8a8a8"/>
<rect x="328.29" y="962.3" width="0.9" height="6.9" fill="#a8a8a8"/>
<rect x="332.79" y="962.3" width="0.9" height="6.9" fill="#a8a8a8"/>
<line x1="325.59" y1="961" x2="325.59" y2="961.6" stroke="#ababab" stroke-width="1.1"/>
<line x1="324.69" y1="961.6" x2="326.49" y2="961.6" stroke="#6a6a6a" stroke-width="1.3"/>
<line x1="330.99" y1="960.5" x2="330.99" y2="962.3" stroke="#ababab" stroke-width="1.1"/>
<line x1="330.09" y1="961.1" x2="331.89" y2="961.1" stroke="#6a6a6a" stroke-width="1.3"/>
<text x="114" y="961.3" text-anchor="middle" font-size="18">*</text>
<text x="151.5" y="940.75" text-anchor="middle" font-size="18">*</text>
<text x="189.7" y="850.75" text-anchor="middle" font-size="18">*</text>
<text x="267" y="961.75" text-anchor="middle" font-size="18">*</text>
<text x="305" y="949.3" text-anchor="middle" font-size="18">*</text>
<text x="104.9" y="976.5" text-anchor="end" font-size="21.5">0</text>
<text x="104.9" y="932.6" text-anchor="end" font-size="21.5">.04</text>
<text x="104.9" y="888.8" text-anchor="end" font-size="21.5">.08</text>
<text x="104.9" y="844.9" text-anchor="end" font-size="21.5">.12</text>
<text x="104.9" y="801.1" text-anchor="end" font-size="21.5">.16</text>
<text transform="translate(124.45,973.5) rotate(-90)" text-anchor="end" font-size="21.5">Clcn4</text>
<text transform="translate(143.76,973.5) rotate(-90)" text-anchor="end" font-size="21.5">Clcn5</text>
<text transform="translate(163.07,973.5) rotate(-90)" text-anchor="end" font-size="21.5">Cltc</text>
<text transform="translate(182.38,973.5) rotate(-90)" text-anchor="end" font-size="21.5">Ehd3</text>
<text transform="translate(201.69,973.5) rotate(-90)" text-anchor="end" font-size="21.5">Lamp1</text>
<text transform="translate(221,973.5) rotate(-90)" text-anchor="end" font-size="21.5">Lamp5</text>
<text transform="translate(240.3,973.5) rotate(-90)" text-anchor="end" font-size="21.5">Rab7</text>
<text transform="translate(259.61,973.5) rotate(-90)" text-anchor="end" font-size="21.5">Rab11fip</text>
<text transform="translate(278.92,973.5) rotate(-90)" text-anchor="end" font-size="21.5">Slc4a4</text>
<text transform="translate(298.23,973.5) rotate(-90)" text-anchor="end" font-size="21.5">Slc26a7</text>
<text transform="translate(317.54,973.5) rotate(-90)" text-anchor="end" font-size="21.5">Stam</text>
<text transform="translate(336.85,973.5) rotate(-90)" text-anchor="end" font-size="21.5">Vps37a</text>
<text transform="translate(66.1,786.6) rotate(-90)" text-anchor="end" font-size="22">Expression relative to Beta-actin</text>
<rect x="343.1" y="896.6" width="6.5" height="6.2" fill="#676767"/>
<rect x="343.1" y="912.4" width="6.5" height="6.2" fill="#b5b5b5"/>
<text x="351.8" y="903.3" text-anchor="start" font-size="21.5">miR</text>
<text x="351.8" y="921.6" text-anchor="start" font-size="21.5">con</text>
<text x="176.6" y="781.4" text-anchor="start" font-size="22" font-weight="bold">ALC</text>
<text x="2.4" y="788.6" text-anchor="start" font-size="35.5" font-weight="bold">d.</text>
<line x1="498.9" y1="945.02" x2="731.8" y2="945.02" stroke="#d9d9d9" stroke-width="1.4"/>
<line x1="498.9" y1="920.14" x2="731.8" y2="920.14" stroke="#d9d9d9" stroke-width="1.4"/>
<line x1="498.9" y1="895.26" x2="731.8" y2="895.26" stroke="#d9d9d9" stroke-width="1.4"/>
<line x1="498.9" y1="870.38" x2="731.8" y2="870.38" stroke="#d9d9d9" stroke-width="1.4"/>
<line x1="498.9" y1="845.5" x2="731.8" y2="845.5" stroke="#d9d9d9" stroke-width="1.4"/>
<line x1="498.9" y1="820.62" x2="731.8" y2="820.62" stroke="#d9d9d9" stroke-width="1.4"/>
<line x1="498.9" y1="795.74" x2="731.8" y2="795.74" stroke="#d9d9d9" stroke-width="1.4"/>
<line x1="498.9" y1="795.74" x2="498.9" y2="969.9" stroke="#d9d9d9" stroke-width="1.4"/>
<line x1="494.9" y1="969.9" x2="498.9" y2="969.9" stroke="#d9d9d9" stroke-width="1"/>
<line x1="494.9" y1="945.02" x2="498.9" y2="945.02" stroke="#d9d9d9" stroke-width="1"/>
<line x1="494.9" y1="920.14" x2="498.9" y2="920.14" stroke="#d9d9d9" stroke-width="1"/>
<line x1="494.9" y1="895.26" x2="498.9" y2="895.26" stroke="#d9d9d9" stroke-width="1"/>
<line x1="494.9" y1="870.38" x2="498.9" y2="870.38" stroke="#d9d9d9" stroke-width="1"/>
<line x1="494.9" y1="845.5" x2="498.9" y2="845.5" stroke="#d9d9d9" stroke-width="1"/>
<line x1="494.9" y1="820.62" x2="498.9" y2="820.62" stroke="#d9d9d9" stroke-width="1"/>
<line x1="494.9" y1="795.74" x2="498.9" y2="795.74" stroke="#d9d9d9" stroke-width="1"/>
<line x1="498.9" y1="969.9" x2="731.8" y2="969.9" stroke="#d9d9d9" stroke-width="1.4"/>
<line x1="498.9" y1="969.9" x2="498.9" y2="973.9" stroke="#d9d9d9" stroke-width="1"/>
<line x1="518.31" y1="969.9" x2="518.31" y2="973.9" stroke="#d9d9d9" stroke-width="1"/>
<line x1="537.72" y1="969.9" x2="537.72" y2="973.9" stroke="#d9d9d9" stroke-width="1"/>
<line x1="557.12" y1="969.9" x2="557.12" y2="973.9" stroke="#d9d9d9" stroke-width="1"/>
<line x1="576.53" y1="969.9" x2="576.53" y2="973.9" stroke="#d9d9d9" stroke-width="1"/>
<line x1="595.94" y1="969.9" x2="595.94" y2="973.9" stroke="#d9d9d9" stroke-width="1"/>
<line x1="615.35" y1="969.9" x2="615.35" y2="973.9" stroke="#d9d9d9" stroke-width="1"/>
<line x1="634.76" y1="969.9" x2="634.76" y2="973.9" stroke="#d9d9d9" stroke-width="1"/>
<line x1="654.17" y1="969.9" x2="654.17" y2="973.9" stroke="#d9d9d9" stroke-width="1"/>
<line x1="673.57" y1="969.9" x2="673.57" y2="973.9" stroke="#d9d9d9" stroke-width="1"/>
<line x1="692.98" y1="969.9" x2="692.98" y2="973.9" stroke="#d9d9d9" stroke-width="1"/>
<line x1="712.39" y1="969.9" x2="712.39" y2="973.9" stroke="#d9d9d9" stroke-width="1"/>
<line x1="731.8" y1="969.9" x2="731.8" y2="973.9" stroke="#d9d9d9" stroke-width="1"/>
<rect x="541.02" y="936.9" width="1.2" height="32.5" fill="#fff"/>
<rect x="552.62" y="908.4" width="1" height="61" fill="#fff"/>
<rect x="579.83" y="873.1" width="1.2" height="96.3" fill="#fff"/>
<rect x="591.43" y="838.2" width="1" height="131.2" fill="#fff"/>
<rect x="618.65" y="899" width="1.2" height="70.4" fill="#fff"/>
<rect x="630.25" y="890.6" width="1" height="78.8" fill="#fff"/>
<rect x="669.07" y="967.2" width="1" height="2.2" fill="#fff"/>
<rect x="696.28" y="923.1" width="1.2" height="46.3" fill="#fff"/>
<rect x="707.88" y="898.4" width="1" height="71" fill="#fff"/>
<rect x="715.69" y="967.4" width="1.2" height="2" fill="#fff"/>
<rect x="503.4" y="969.2" width="5.2" height="0.7" fill="#4a4a4a"/>
<rect x="508.6" y="969.2" width="5.2" height="0.7" fill="#9a9a9a"/>
<rect x="522.81" y="969.2" width="5.2" height="0.7" fill="#4a4a4a"/>
<rect x="528.01" y="969.1" width="5.2" height="0.8" fill="#9a9a9a"/>
<rect x="542.22" y="937.7" width="5.2" height="32.2" fill="#676767"/>
<rect x="542.22" y="937.7" width="5.2" height="1" fill="#505050"/>
<rect x="542.22" y="937.7" width="0.9" height="32.2" fill="#505050"/>
<rect x="546.52" y="937.7" width="0.9" height="32.2" fill="#505050"/>
<rect x="547.42" y="909.2" width="5.2" height="60.7" fill="#b5b5b5"/>
<rect x="547.42" y="909.2" width="5.2" height="1" fill="#a8a8a8"/>
<rect x="547.42" y="909.2" width="0.9" height="60.7" fill="#a8a8a8"/>
<rect x="551.72" y="909.2" width="0.9" height="60.7" fill="#a8a8a8"/>
<line x1="544.82" y1="932.1" x2="544.82" y2="937.7" stroke="#ababab" stroke-width="1.1"/>
<line x1="543.92" y1="932.7" x2="545.72" y2="932.7" stroke="#6a6a6a" stroke-width="1.3"/>
<line x1="550.02" y1="900.3" x2="550.02" y2="909.2" stroke="#ababab" stroke-width="1.1"/>
<line x1="549.12" y1="900.9" x2="550.92" y2="900.9" stroke="#6a6a6a" stroke-width="1.3"/>
<rect x="581.03" y="873.9" width="5.2" height="96" fill="#676767"/>
<rect x="581.03" y="873.9" width="5.2" height="1" fill="#505050"/>
<rect x="581.03" y="873.9" width="0.9" height="96" fill="#505050"/>
<rect x="585.33" y="873.9" width="0.9" height="96" fill="#505050"/>
<rect x="586.23" y="839" width="5.2" height="130.9" fill="#b5b5b5"/>
<rect x="586.23" y="839" width="5.2" height="1" fill="#a8a8a8"/>
<rect x="586.23" y="839" width="0.9" height="130.9" fill="#a8a8a8"/>
<rect x="590.53" y="839" width="0.9" height="130.9" fill="#a8a8a8"/>
<line x1="583.63" y1="865.8" x2="583.63" y2="873.9" stroke="#ababab" stroke-width="1.1"/>
<line x1="582.73" y1="866.4" x2="584.53" y2="866.4" stroke="#6a6a6a" stroke-width="1.3"/>
<line x1="588.83" y1="813.5" x2="588.83" y2="839" stroke="#ababab" stroke-width="1.1"/>
<line x1="587.93" y1="814.1" x2="589.73" y2="814.1" stroke="#6a6a6a" stroke-width="1.3"/>
<rect x="619.85" y="899.8" width="5.2" height="70.1" fill="#676767"/>
<rect x="619.85" y="899.8" width="5.2" height="1" fill="#505050"/>
<rect x="619.85" y="899.8" width="0.9" height="70.1" fill="#505050"/>
<rect x="624.15" y="899.8" width="0.9" height="70.1" fill="#505050"/>
<rect x="625.05" y="891.4" width="5.2" height="78.5" fill="#b5b5b5"/>
<rect x="625.05" y="891.4" width="5.2" height="1" fill="#a8a8a8"/>
<rect x="625.05" y="891.4" width="0.9" height="78.5" fill="#a8a8a8"/>
<rect x="629.35" y="891.4" width="0.9" height="78.5" fill="#a8a8a8"/>
<line x1="622.45" y1="895.2" x2="622.45" y2="899.8" stroke="#ababab" stroke-width="1.1"/>
<line x1="621.55" y1="895.8" x2="623.35" y2="895.8" stroke="#6a6a6a" stroke-width="1.3"/>
<line x1="627.65" y1="882.5" x2="627.65" y2="891.4" stroke="#ababab" stroke-width="1.1"/>
<line x1="626.75" y1="883.1" x2="628.55" y2="883.1" stroke="#6a6a6a" stroke-width="1.3"/>
<rect x="639.26" y="969.2" width="5.2" height="0.7" fill="#4a4a4a"/>
<rect x="644.46" y="969.1" width="5.2" height="0.8" fill="#9a9a9a"/>
<rect x="658.67" y="968.5" width="5.2" height="1.4" fill="#4a4a4a"/>
<rect x="663.87" y="968" width="5.2" height="1.9" fill="#9a9a9a"/>
<rect x="678.07" y="969.4" width="5.2" height="0.5" fill="#4a4a4a"/>
<rect x="683.27" y="969.4" width="5.2" height="0.5" fill="#9a9a9a"/>
<rect x="697.48" y="923.9" width="5.2" height="46" fill="#676767"/>
<rect x="697.48" y="923.9" width="5.2" height="1" fill="#505050"/>
<rect x="697.48" y="923.9" width="0.9" height="46" fill="#505050"/>
<rect x="701.78" y="923.9" width="0.9" height="46" fill="#505050"/>
<rect x="702.68" y="899.2" width="5.2" height="70.7" fill="#b5b5b5"/>
<rect x="702.68" y="899.2" width="5.2" height="1" fill="#a8a8a8"/>
<rect x="702.68" y="899.2" width="0.9" height="70.7" fill="#a8a8a8"/>
<rect x="706.98" y="899.2" width="0.9" height="70.7" fill="#a8a8a8"/>
<line x1="700.08" y1="916.6" x2="700.08" y2="923.9" stroke="#ababab" stroke-width="1.1"/>
<line x1="699.18" y1="917.2" x2="700.98" y2="917.2" stroke="#6a6a6a" stroke-width="1.3"/>
<line x1="705.28" y1="876" x2="705.28" y2="899.2" stroke="#ababab" stroke-width="1.1"/>
<line x1="704.38" y1="876.6" x2="706.18" y2="876.6" stroke="#6a6a6a" stroke-width="1.3"/>
<rect x="716.89" y="968.2" width="5.2" height="1.7" fill="#4a4a4a"/>
<rect x="722.09" y="968.6" width="5.2" height="1.3" fill="#9a9a9a"/>
<text x="506.7" y="959.3" text-anchor="middle" font-size="18">*</text>
<text x="543.9" y="927.6" text-anchor="middle" font-size="18">*</text>
<text x="582.7" y="860.65" text-anchor="middle" font-size="18">*</text>
<text x="641.2" y="961.9" text-anchor="middle" font-size="18">*</text>
<text x="661.5" y="956.2" text-anchor="middle" font-size="18">*</text>
<text x="496.5" y="977.2" text-anchor="end" font-size="21.5">0</text>
<text x="496.5" y="927.4" text-anchor="end" font-size="21.5">.04</text>
<text x="496.5" y="877.7" text-anchor="end" font-size="21.5">.08</text>
<text x="496.5" y="827.9" text-anchor="end" font-size="21.5">.12</text>
<text transform="translate(516.6,974) rotate(-90)" text-anchor="end" font-size="21.5">Clcn4</text>
<text transform="translate(536.01,974) rotate(-90)" text-anchor="end" font-size="21.5">Clcn5</text>
<text transform="translate(555.42,974) rotate(-90)" text-anchor="end" font-size="21.5">Cltc</text>
<text transform="translate(574.83,974) rotate(-90)" text-anchor="end" font-size="21.5">Ehd3</text>
<text transform="translate(594.24,974) rotate(-90)" text-anchor="end" font-size="21.5">Lamp1</text>
<text transform="translate(613.65,974) rotate(-90)" text-anchor="end" font-size="21.5">Lamp5</text>
<text transform="translate(633.05,974) rotate(-90)" text-anchor="end" font-size="21.5">Rab7</text>
<text transform="translate(652.46,974) rotate(-90)" text-anchor="end" font-size="21.5">Rab11fip</text>
<text transform="translate(671.87,974) rotate(-90)" text-anchor="end" font-size="21.5">Slc4a4</text>
<text transform="translate(691.28,974) rotate(-90)" text-anchor="end" font-size="21.5">Slc26a7</text>
<text transform="translate(710.69,974) rotate(-90)" text-anchor="end" font-size="21.5">Stam</text>
<text transform="translate(730.1,974) rotate(-90)" text-anchor="end" font-size="21.5">Vps37a</text>
<text transform="translate(461.4,788.2) rotate(-90)" text-anchor="end" font-size="22">Expression relative to Beta-actin</text>
<rect x="738.4" y="899.7" width="6.5" height="6.2" fill="#676767"/>
<rect x="738.4" y="914.8" width="6.5" height="6.2" fill="#b5b5b5"/>
<text x="746.1" y="905.6" text-anchor="start" font-size="21.5">miR</text>
<text x="746.1" y="923.5" text-anchor="start" font-size="21.5">con</text>
<text x="578.2" y="782" text-anchor="start" font-size="22" font-weight="bold">LS8</text>
<text x="405.7" y="792.3" text-anchor="start" font-size="35.5" font-weight="bold">e.</text>
<circle cx="388.4" cy="797.4" r="0.9" fill="#666"/>
</svg>
</body></html>
